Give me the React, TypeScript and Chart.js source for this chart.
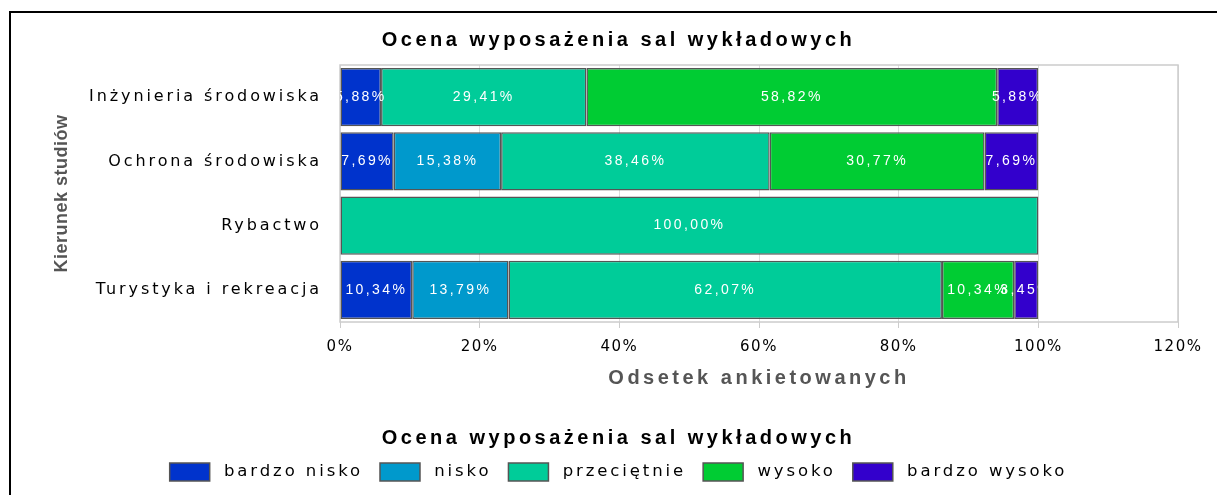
import React, { useEffect, useRef } from "react";
import { Chart, registerables } from "chart.js";

Chart.register(...registerables);

const categories = [
  "Inżynieria środowiska",
  "Ochrona środowiska",
  "Rybactwo",
  "Turystyka i rekreacja",
];
const seriesNames = ["bardzo nisko", "nisko", "przeciętnie", "wysoko", "bardzo wysoko"];
const bardzoNisko = [5.88, 7.69, null, 10.34];
const nisko = [null, 15.38, null, 13.79];
const przecietnie = [29.41, 38.46, 100.0, 62.07];
const wysoko = [58.82, 30.77, null, 10.34];
const bardzoWysoko = [5.88, 7.69, null, 3.45];
const seriesValues = [bardzoNisko, nisko, przecietnie, wysoko, bardzoWysoko];
const seriesColors = ["#0033CC", "#0099CC", "#00CC99", "#00CC33", "#3300CC"];
const xTickMax = 120;
const xTickStep = 20;
const titleText = "Ocena wyposażenia sal wykładowych";
const xTitle = "Odsetek ankietowanych";
const yTitle = "Kierunek studiów";

// letter spacing (px) keyed by font size
const SPACING: Record<number, number> = { 20: 3.5, 18: 0.5, 16: 2.9, 16.5: 2.9, 15: 1.5, 14: 2.4 };
// extra leading offset (px) for left-aligned legend labels, keyed by font size
const LEAD: Record<number, number> = { 16.5: 6 };

function patchCtx(ctx: any) {
  if (ctx.__patched) return;
  ctx.__patched = true;
  const fill = ctx.fillText.bind(ctx);
  const measure = ctx.measureText.bind(ctx);
  const sizeOf = () => {
    const m = /(\d+(?:\.\d+)?)px/.exec(ctx.font);
    return m ? parseFloat(m[1]) : 0;
  };
  ctx.fillText = (text: string, x: number, y: number, maxW?: number) => {
    const prev = ctx.letterSpacing;
    const size = sizeOf();
    ctx.letterSpacing = (SPACING[size] ?? 0) + "px";
    const lead = ctx.textAlign === "left" ? LEAD[size] ?? 0 : 0;
    if (maxW === undefined) fill(text, x + lead, y);
    else fill(text, x + lead, y, maxW);
    ctx.letterSpacing = prev;
  };
  ctx.measureText = (t: string) => {
    const prev = ctx.letterSpacing;
    const size = sizeOf();
    ctx.letterSpacing = (SPACING[size] ?? 0) + "px";
    const r = measure(t);
    ctx.letterSpacing = prev;
    const lead = LEAD[size] ?? 0;
    if (!lead) return r;
    return {
      width: r.width + lead,
      actualBoundingBoxAscent: r.actualBoundingBoxAscent,
      actualBoundingBoxDescent: r.actualBoundingBoxDescent,
      actualBoundingBoxLeft: r.actualBoundingBoxLeft,
      actualBoundingBoxRight: r.actualBoundingBoxRight + lead,
    };
  };
}

const fmt = (v: number) => v.toFixed(2).replace(".", ",") + "%";

const frameAndLabels = {
  id: "frameAndLabels",
  beforeDatasetsDraw(chart: any) {
    const { ctx, chartArea } = chart;
    ctx.save();
    ctx.strokeStyle = "#cccccc";
    ctx.lineWidth = 1.5;
    ctx.strokeRect(chartArea.left, chartArea.top, chartArea.right - chartArea.left, chartArea.bottom - chartArea.top);
    ctx.restore();
  },
  afterDatasetsDraw(chart: any) {
    const { ctx } = chart;
    const xScale = chart.scales.x;
    categories.forEach((_, i) => {
      let total = 0;
      seriesValues.forEach((s) => {
        if (s[i] != null) total += s[i] as number;
      });
      const x0 = xScale.getPixelForValue(0);
      const x1 = xScale.getPixelForValue(total);
      chart.data.datasets.forEach((ds: any, di: number) => {
        const v = ds.data[i];
        if (v == null) return;
        const bar = chart.getDatasetMeta(di).data[i];
        const { x, base, y, height } = bar.getProps(["x", "base", "y", "height"], true);
        ctx.save();
        ctx.beginPath();
        ctx.rect(x0, y - height / 2, x1 - x0, height);
        ctx.clip();
        ctx.fillStyle = "#ffffff";
        ctx.font = "14px 'Liberation Sans', Arial, sans-serif";
        ctx.textAlign = "center";
        ctx.textBaseline = "middle";
        ctx.fillText(fmt(v), (x + base) / 2, y);
        ctx.restore();
      });
    });
  },
};

export default function App() {
  const ref = useRef<HTMLCanvasElement>(null);
  useEffect(() => {
    const canvas = ref.current!;
    const ctx = canvas.getContext("2d");
    patchCtx(ctx);
    const chart = new Chart(canvas, {
      type: "bar",
      data: {
        labels: categories,
        datasets: seriesNames.map((name, i) => ({
          label: name,
          data: seriesValues[i],
          backgroundColor: seriesColors[i],
          borderColor: "#555555",
          borderWidth: 1.5,
          borderSkipped: false,
          barPercentage: 0.91,
          categoryPercentage: 1,
        })),
      },
      options: {
        indexAxis: "y",
        responsive: false,
        animation: false,
        layout: { padding: { left: 20, right: 0, top: 0, bottom: 4 } },
        plugins: {
          tooltip: { enabled: false },
          title: {
            display: true,
            text: titleText,
            color: "#000000",
            font: { family: "'Liberation Sans', Arial, sans-serif", size: 20, weight: "bold", lineHeight: 1.2 },
            padding: { top: 28, bottom: 13 },
          },
          legend: {
            position: "bottom",
            title: {
              display: true,
              text: titleText,
              color: "#000000",
              font: { family: "'Liberation Sans', Arial, sans-serif", size: 20, weight: "bold", lineHeight: 0.9 },
              padding: { top: 0, bottom: 0 },
            },
            labels: {
              boxWidth: 40,
              boxHeight: 18,
              padding: 17,
              color: "#000000",
              font: { family: "'DejaVu Sans', sans-serif", size: 16.5 },
            },
          },
        },
        scales: {
          x: {
            type: "linear",
            stacked: true,
            min: 0,
            max: xTickMax,
            ticks: {
              stepSize: xTickStep,
              color: "#000000",
              padding: 10,
              font: { family: "'DejaVu Sans', sans-serif", size: 15 },
              callback: (v: any) => v + "%",
            },
            grid: { color: "#dddddd", tickColor: "#cccccc", tickLength: 6, lineWidth: 1 },
            border: { display: false },
            title: {
              display: true,
              text: xTitle,
              color: "#555555",
              font: { family: "'Liberation Sans', Arial, sans-serif", size: 20, weight: "bold", lineHeight: 1.2 },
              padding: { top: 0, bottom: 38 },
            },
            afterFit: (s: any) => {
              s.height = 106;
            },
          },
          y: {
            type: "category",
            stacked: true,
            ticks: {
              color: "#000000",
              padding: 10,
              font: { family: "'DejaVu Sans', sans-serif", size: 16 },
            },
            grid: { display: false },
            border: { display: false },
            title: {
              display: true,
              text: yTitle,
              color: "#555555",
              font: { family: "'Liberation Sans', Arial, sans-serif", size: 18, weight: "bold", lineHeight: 1.2 },
              padding: { top: 31, bottom: 0 },
            },
            afterFit: (s: any) => {
              s.width = 320;
            },
          },
          y2: {
            type: "linear",
            position: "right",
            display: true,
            ticks: { display: false },
            grid: { display: false },
            border: { display: false },
            afterFit: (s: any) => {
              s.width = 39;
            },
          },
        },
      },
      plugins: [frameAndLabels],
    } as any);
    return () => chart.destroy();
  }, []);

  return (
    <div style={{ position: "fixed", left: 0, top: 0, width: 1217, height: 495, background: "#fff" }}>
      <div
        style={{
          position: "absolute",
          left: 9,
          top: 11,
          right: 0,
          bottom: 0,
          borderTop: "2px solid #000",
          borderLeft: "2px solid #000",
        }}
      />
      <canvas ref={ref} width={1217} height={495} style={{ position: "absolute", left: 0, top: 0 }} />
    </div>
  );
}
